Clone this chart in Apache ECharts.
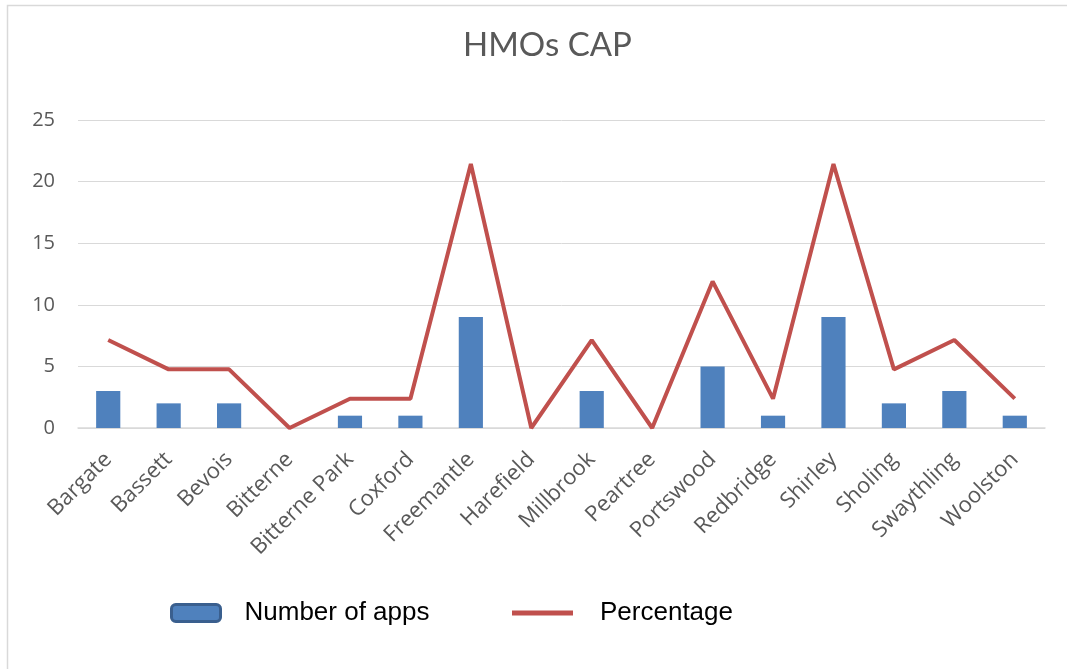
<!DOCTYPE html>
<html><head><meta charset="utf-8">
<script src="https://cdn.jsdelivr.net/npm/echarts@6/dist/echarts.min.js"></script>
<style>html,body{margin:0;padding:0;background:#fff}#c{width:1067px;height:669px}</style>
</head><body><div id="c"></div>
<script>
const categories = ['Bargate','Bassett','Bevois','Bitterne','Bitterne Park','Coxford','Freemantle','Harefield','Millbrook','Peartree','Portswood','Redbridge','Shirley','Sholing','Swaythling','Woolston'];
const numberOfApps = [3,2,2,0,1,1,9,0,3,0,5,1,9,2,3,1];
const percentage = [7.14,4.76,4.76,0,2.38,2.38,21.43,0,7.14,0,11.9,2.38,21.43,4.76,7.14,2.38];
const yTicks = [0,5,10,15,20,25];

const chart = echarts.init(document.getElementById('c'));
const font = '"Open Sans", sans-serif';
const legendFont = '"Liberation Sans", Arial, sans-serif';
chart.setOption({
  animation:false,
  graphic:[{type:'rect',shape:{x:7.5,y:5.5,width:1080,height:700},style:{fill:'none',stroke:'#d9d9d9',lineWidth:1.5},silent:true}],
  title:{text:'HMOs CAP',left:463,top:29,padding:0,textStyle:{fontFamily:'Lato, sans-serif',fontWeight:'normal',fontSize:33,color:'#595959'}},
  legend:[
    {data:[{name:'Number of apps',itemStyle:{color:'#4F81BD',borderColor:'#3A5F8E',borderWidth:3}}],left:170,top:600,padding:0,itemWidth:49,itemHeight:17,icon:'roundRect',
     textStyle:{fontFamily:legendFont,fontSize:26,color:'#000',padding:[0,0,0,19]}},
    {data:[{name:'Percentage',icon:'rect',itemStyle:{color:'#C0504D'}}],left:512,top:600,padding:0,itemWidth:61,itemHeight:5,
     textStyle:{fontFamily:legendFont,fontSize:26,color:'#000',padding:[0,0,0,22]}}
  ],
  grid:{left:78,right:22,top:120,bottom:241,containLabel:false},
  xAxis:{type:'category',data:categories,boundaryGap:true,
    axisLine:{lineStyle:{color:'#d9d9d9',width:1.5}},axisTick:{show:false},
    axisLabel:{rotate:45,interval:0,fontFamily:font,fontSize:22,color:'#595959',margin:28,padding:[18,0,0,0]}},
  yAxis:{type:'value',min:0,max:25,interval:5,
    axisLine:{show:false},axisTick:{show:false},
    splitLine:{lineStyle:{color:'#d9d9d9',width:1}},
    axisLabel:{fontFamily:font,fontSize:20,color:'#595959',margin:23,formatter:v=>yTicks.includes(v)?String(v):''}},
  series:[
    {name:'Number of apps',type:'bar',data:numberOfApps,barWidth:'40%',itemStyle:{color:'#4F81BD'}},
    {name:'Percentage',type:'line',data:percentage,symbol:'none',lineStyle:{color:'#C0504D',width:4},itemStyle:{color:'#C0504D'}}
  ]
});
</script></body></html>
